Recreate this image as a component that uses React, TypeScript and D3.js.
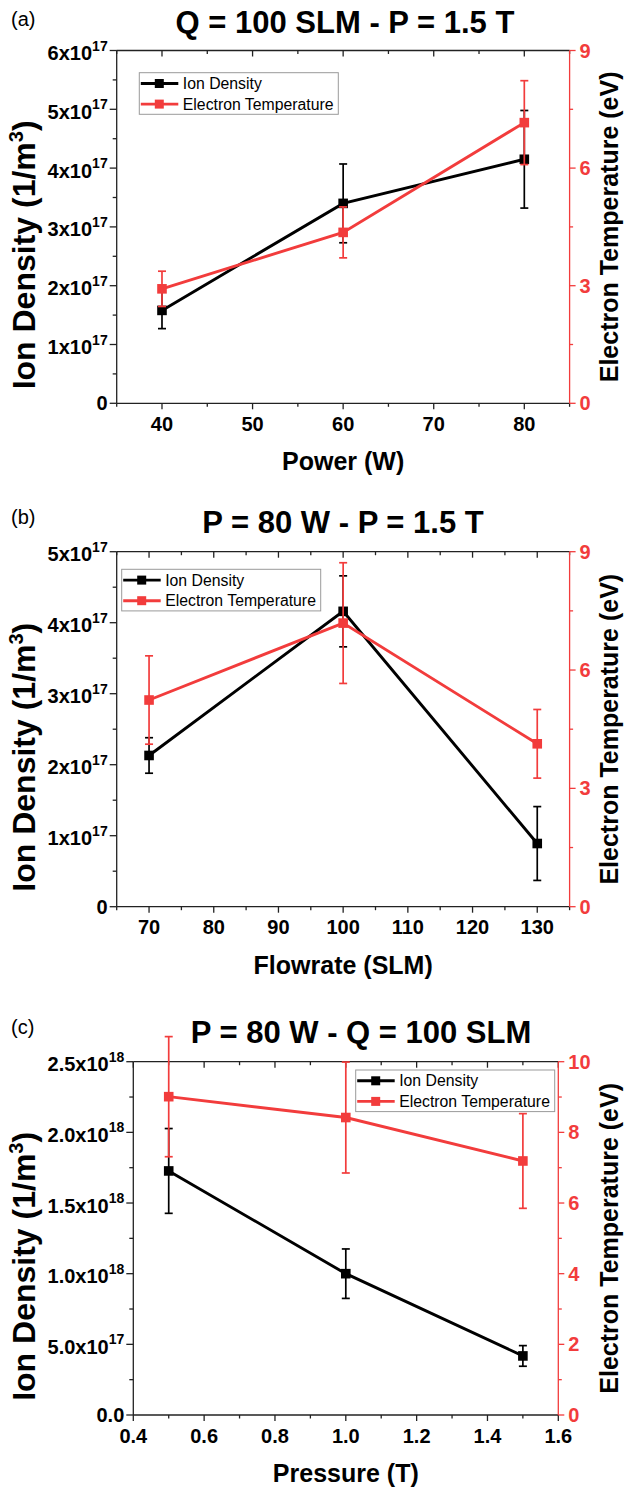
import React from 'react';
import * as d3 from 'd3';

const FONT = '"Liberation Sans", Arial, Helvetica, sans-serif';
const RED = '#F23C3C';

// (a) power sweep at Q = 100 SLM
const powerW = [40, 60, 80];
const powerDensity = [1.58e17, 3.4e17, 4.15e17];
const powerDensityErr = [0.31e17, 0.67e17, 0.83e17];
const powerTe = [2.92, 4.36, 7.16];
const powerTeErr = [0.45, 0.65, 1.07];
const powerXTicks = [40, 50, 60, 70, 80];
const powerXMinor = [35, 45, 55, 65, 75, 85];
const powerYTicks = [0, 1e17, 2e17, 3e17, 4e17, 5e17, 6e17];
const powerYMinor = [0.5e17, 1.5e17, 2.5e17, 3.5e17, 4.5e17, 5.5e17];

// (b) flowrate sweep at 80 W
const flowSLM = [70, 100, 130];
const flowDensity = [2.13e17, 4.16e17, 0.89e17];
const flowDensityErr = [0.25e17, 0.5e17, 0.52e17];
const flowTe = [5.24, 7.19, 4.13];
const flowTeErr = [1.12, 1.53, 0.87];
const flowXTicks = [70, 80, 90, 100, 110, 120, 130];
const flowXMinor = [65, 75, 85, 95, 105, 115, 125, 135];
const flowYTicks = [0, 1e17, 2e17, 3e17, 4e17, 5e17];
const flowYMinor = [0.5e17, 1.5e17, 2.5e17, 3.5e17, 4.5e17];

// (c) pressure sweep
const pressureT = [0.5, 1.0, 1.5];
const pressureDensity = [1.727e18, 1.0e18, 0.418e18];
const pressureDensityErr = [0.3e18, 0.175e18, 0.073e18];
const pressureTe = [9.01, 8.42, 7.19];
const pressureTeErr = [1.7, 1.57, 1.34];
const pressureXTicks = [0.4, 0.6, 0.8, 1.0, 1.2, 1.4, 1.6];
const pressureXMinor = [0.5, 0.7, 0.9, 1.1, 1.3, 1.5];
const pressureYTicks = [0, 0.5e18, 1.0e18, 1.5e18, 2.0e18, 2.5e18];
const pressureYMinor = [0.25e18, 0.75e18, 1.25e18, 1.75e18, 2.25e18];

const teTicks9 = [0, 3, 6, 9];
const teMinor9 = [1.5, 4.5, 7.5];
const teTicks10 = [0, 2, 4, 6, 8, 10];
const teMinor10 = [1, 3, 5, 7, 9];

const panels = [
  {
    tag: '(a)', tagY: 26, title: 'Q = 100 SLM - P = 1.5 T', titleX: 345, titleY: 33,
    left: 116.7, right: 569.6, top: 50.5, bottom: 403.3,
    xDomain: [35, 85], xTicks: powerXTicks, xMinor: powerXMinor, xFmt: d3.format('d'),
    yDomain: [0, 6e17], yTicks: powerYTicks, yMinor: powerYMinor, yDigits: 0,
    tDomain: [0, 9], tTicks: teTicks9, tMinor: teMinor9,
    xs: powerW, dens: powerDensity, densErr: powerDensityErr, te: powerTe, teErr: powerTeErr,
    legendX: 139.3, legendY: 72.7, xLabel: 'Power (W)'
  },
  {
    tag: '(b)', tagY: 524, title: 'P = 80 W - P = 1.5 T', titleX: 343, titleY: 533,
    left: 116.7, right: 569.6, top: 551.7, bottom: 906.7,
    xDomain: [65, 135], xTicks: flowXTicks, xMinor: flowXMinor, xFmt: d3.format('d'),
    yDomain: [0, 5e17], yTicks: flowYTicks, yMinor: flowYMinor, yDigits: 0,
    tDomain: [0, 9], tTicks: teTicks9, tMinor: teMinor9,
    xs: flowSLM, dens: flowDensity, densErr: flowDensityErr, te: flowTe, teErr: flowTeErr,
    legendX: 121.7, legendY: 569.3, xLabel: 'Flowrate (SLM)'
  },
  {
    tag: '(c)', tagY: 1034, title: 'P = 80 W - Q = 100 SLM', titleX: 361, titleY: 1043,
    left: 133.3, right: 558.3, top: 1061.7, bottom: 1415,
    xDomain: [0.4, 1.6], xTicks: pressureXTicks, xMinor: pressureXMinor, xFmt: d3.format('.1f'),
    yDomain: [0, 2.5e18], yTicks: pressureYTicks, yMinor: pressureYMinor, yDigits: 1,
    tDomain: [0, 10], tTicks: teTicks10, tMinor: teMinor10,
    xs: pressureT, dens: pressureDensity, densErr: pressureDensityErr, te: pressureTe, teErr: pressureTeErr,
    legendX: 355.7, legendY: 1070, xLabel: 'Pressure (T)'
  }
];

// y tick label like 5x10^17 with a real superscript
const SciLabel = ({ v, digits, x, y }) => {
  if (v === 0) {
    return (
      <text x={x} y={y + 7} textAnchor="end" fontSize={20} fontWeight="bold">
        {(0).toFixed(digits)}
      </text>
    );
  }
  const e = Math.floor(Math.log10(v) + 1e-9);
  const m = v / Math.pow(10, e);
  return (
    <text x={x} y={y + 9.5} textAnchor="end" fontSize={20} fontWeight="bold">
      <tspan>{m.toFixed(digits)}x10</tspan>
      <tspan dy={-9.5} fontSize={14}>{e}</tspan>
    </text>
  );
};

const Series = ({ pts, errs, color, scaleY }) => {
  const line = d3.line().x(d => d[0]).y(d => d[1]);
  return (
    <g>
      <path d={line(pts.map(p => [p.x, p.y]))} fill="none" stroke={color} strokeWidth={2.9} />
      {pts.map((p, i) => {
        const hi = scaleY(p.v + errs[i]);
        const lo = scaleY(p.v - errs[i]);
        return (
          <g key={'e' + i} stroke={color} strokeWidth={1.7}>
            <line x1={p.x} x2={p.x} y1={hi} y2={lo} />
            <line x1={p.x - 4} x2={p.x + 4} y1={hi} y2={hi} />
            <line x1={p.x - 4} x2={p.x + 4} y1={lo} y2={lo} />
          </g>
        );
      })}
      {pts.map((p, i) => (
        <rect key={'m' + i} x={p.x - 4.8} y={p.y - 4.8} width={9.6} height={9.6} fill={color} />
      ))}
    </g>
  );
};

const Legend = ({ x, y }) => {
  const rows = [
    { name: 'Ion Density', color: '#000' },
    { name: 'Electron Temperature', color: RED }
  ];
  return (
    <g>
      <rect x={x} y={y} width={199} height={41.6} fill="white" stroke="#9a9a9a" strokeWidth={1} />
      {rows.map((r, i) => {
        const cy = y + 10.8 + i * 20.6;
        return (
          <g key={r.name}>
            <line x1={x + 1.5} x2={x + 39} y1={cy} y2={cy} stroke={r.color} strokeWidth={2.9} />
            <rect x={x + 15.5} y={cy - 4.5} width={9} height={9} fill={r.color} />
            <text x={x + 43.5} y={cy + 5.6} fontSize={15.8}>{r.name}</text>
          </g>
        );
      })}
    </g>
  );
};

const Panel = ({ cfg }) => {
  const x = d3.scaleLinear().domain(cfg.xDomain).range([cfg.left, cfg.right]);
  const y = d3.scaleLinear().domain(cfg.yDomain).range([cfg.bottom, cfg.top]);
  const t = d3.scaleLinear().domain(cfg.tDomain).range([cfg.bottom, cfg.top]);
  const midY = (cfg.top + cfg.bottom) / 2;
  const midX = (cfg.left + cfg.right) / 2;

  const densPts = cfg.xs.map((v, i) => ({ x: x(v), y: y(cfg.dens[i]), v: cfg.dens[i] }));
  const tePts = cfg.xs.map((v, i) => ({ x: x(v), y: t(cfg.te[i]), v: cfg.te[i] }));

  return (
    <g>
      <text x={11} y={cfg.tagY} fontSize={20}>{cfg.tag}</text>
      <text x={cfg.titleX} y={cfg.titleY} textAnchor="middle" fontSize={31} fontWeight="bold">
        {cfg.title}
      </text>

      {/* frame: left, bottom, top in black */}
      <g stroke="#222" strokeWidth={1.3}>
        <line x1={cfg.left} x2={cfg.left} y1={cfg.top} y2={cfg.bottom} />
        <line x1={cfg.left} x2={cfg.right} y1={cfg.bottom} y2={cfg.bottom} />
        <line x1={cfg.left} x2={cfg.right} y1={cfg.top} y2={cfg.top} />
        {cfg.xTicks.map(d => (
          <g key={'xt' + d}>
            <line x1={x(d)} x2={x(d)} y1={cfg.bottom} y2={cfg.bottom + 6} />
            <line x1={x(d)} x2={x(d)} y1={cfg.top} y2={cfg.top + 6} />
          </g>
        ))}
        {cfg.xMinor.map(d => (
          <g key={'xm' + d}>
            <line x1={x(d)} x2={x(d)} y1={cfg.bottom} y2={cfg.bottom + 3.5} />
            <line x1={x(d)} x2={x(d)} y1={cfg.top} y2={cfg.top + 3.5} />
          </g>
        ))}
        {cfg.yTicks.map(d => (
          <line key={'yt' + d} x1={cfg.left - 7} x2={cfg.left} y1={y(d)} y2={y(d)} />
        ))}
        {cfg.yMinor.map(d => (
          <line key={'ym' + d} x1={cfg.left - 4} x2={cfg.left} y1={y(d)} y2={y(d)} />
        ))}
      </g>

      {/* right axis for electron temperature */}
      <g stroke={RED} strokeWidth={1.3}>
        <line x1={cfg.right} x2={cfg.right} y1={cfg.top} y2={cfg.bottom} />
        {cfg.tTicks.map(d => (
          <line key={'tt' + d} x1={cfg.right} x2={cfg.right + 6} y1={t(d)} y2={t(d)} />
        ))}
        {cfg.tMinor.map(d => (
          <line key={'tm' + d} x1={cfg.right} x2={cfg.right + 3.5} y1={t(d)} y2={t(d)} />
        ))}
      </g>

      {cfg.yTicks.map(d => (
        <SciLabel key={'yl' + d} v={d} digits={cfg.yDigits} x={cfg.left - 9} y={y(d)} />
      ))}
      {cfg.xTicks.map(d => (
        <text key={'xl' + d} x={x(d)} y={cfg.bottom + 27.5} textAnchor="middle" fontSize={20} fontWeight="bold">
          {cfg.xFmt(d)}
        </text>
      ))}
      {cfg.tTicks.map(d => (
        <text key={'tl' + d} x={cfg.right + 10} y={t(d) + 7} fontSize={20} fontWeight="bold" fill={RED}>
          {d}
        </text>
      ))}

      <text x={midX} y={cfg.bottom + 67} textAnchor="middle" fontSize={25} fontWeight="bold">
        {cfg.xLabel}
      </text>
      <text transform={`translate(35,${midY + 28}) rotate(-90)`} textAnchor="middle" fontSize={32} fontWeight="bold">
        <tspan>Ion Density (1/m</tspan>
        <tspan dy={-12} fontSize={20}>3</tspan>
        <tspan dy={12}>)</tspan>
      </text>
      <text transform={`translate(618,${midY}) rotate(-90)`} textAnchor="middle" fontSize={25} fontWeight="bold">
        Electron Temperature (eV)
      </text>

      <Series pts={densPts} errs={cfg.densErr} color="#000" scaleY={y} />
      <Series pts={tePts} errs={cfg.teErr} color={RED} scaleY={t} />
      <Legend x={cfg.legendX} y={cfg.legendY} />
    </g>
  );
};

export default function App() {
  return (
    <>
      <style>{'body{margin:0}'}</style>
      <svg width={624} height={1487} style={{ display: 'block', fontFamily: FONT }}>
        <rect width={624} height={1487} fill="white" />
        {panels.map(p => (
          <Panel key={p.tag} cfg={p} />
        ))}
      </svg>
    </>
  );
}
